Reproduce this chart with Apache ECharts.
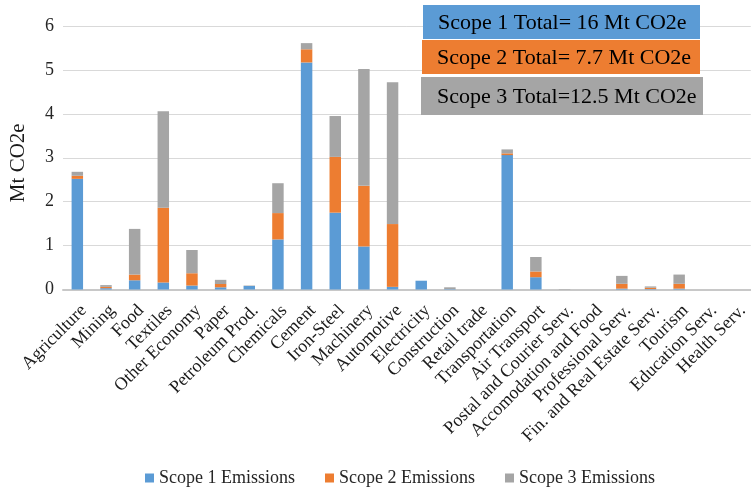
<!DOCTYPE html>
<html>
<head>
<meta charset="utf-8">
<script src="https://cdn.jsdelivr.net/npm/echarts@6/dist/echarts.min.js"></script>
<style>
  html, body { margin: 0; padding: 0; background: #fff; }
  #chart { width: 751px; height: 489px; }
</style>
</head>
<body>
<div id="chart"></div>
<script>
// Emissions by sector (Mt CO2e), stacked by scope
const sectors = [
  'Agriculture', 'Mining', 'Food', 'Textiles', 'Other Economy', 'Paper',
  'Petroleum Prod.', 'Chemicals', 'Cement', 'Iron-Steel', 'Machinery',
  'Automotive', 'Electricity', 'Construction', 'Retail trade', 'Transportation',
  'Air Transport', 'Postal and Courier Serv.', 'Accomodation and Food',
  'Professional Serv.', 'Fin. and Real Estate Serv.', 'Tourism',
  'Education Serv.', 'Health Serv.'
];
const scope1 = [2.52, 0.03, 0.21, 0.16, 0.09, 0.05, 0.08, 1.14, 5.17, 1.75, 0.98, 0.06,
                0.20, 0.01, 0, 3.06, 0.28, 0, 0, 0.02, 0.01, 0.02, 0, 0];
const scope2 = [0.07, 0.03, 0.13, 1.70, 0.28, 0.075, 0, 0.60, 0.30, 1.27, 1.38, 1.43,
                0, 0, 0, 0.04, 0.13, 0, 0, 0.11, 0.03, 0.11, 0, 0];
const scope3 = [0.09, 0.04, 1.04, 2.20, 0.53, 0.095, 0.01, 0.68, 0.14, 0.93, 2.66, 3.23,
                0, 0.04, 0, 0.09, 0.33, 0.01, 0, 0.18, 0.03, 0.21, 0, 0];
const seriesNames = ['Scope 1 Emissions', 'Scope 2 Emissions', 'Scope 3 Emissions'];
const totalsText = ['Scope 1 Total= 16 Mt CO2e', 'Scope 2 Total= 7.7 Mt CO2e', 'Scope 3 Total=12.5 Mt CO2e'];
const yTicks = { min: 0, max: 6, interval: 1 };

const colors = ['#5B9BD5', '#ED7D31', '#A5A5A5'];
const serif = "'Times New Roman', 'Liberation Serif', serif";

const chart = echarts.init(document.getElementById('chart'), null, { renderer: 'canvas' });

function bar(name, data, color) {
  return {
    name: name,
    type: 'bar',
    stack: 'total',
    data: data,
    barWidth: '40%',
    itemStyle: { color: color },
    emphasis: { disabled: true }
  };
}

// Summary boxes in the upper right
const boxes = [
  { x: 423, y: 5, w: 277, h: 34, tx: 438 },
  { x: 422, y: 40, w: 278, h: 34, tx: 437 },
  { x: 421, y: 77, w: 282, h: 38, tx: 437 }
];
const graphics = [];
boxes.forEach((b, i) => {
  graphics.push({
    type: 'rect', left: b.x, top: b.y, z: 100,
    shape: { width: b.w, height: b.h },
    style: { fill: colors[i] }
  });
  graphics.push({
    type: 'text', x: b.tx, y: b.y + b.h / 2 + 1, z: 101,
    style: {
      text: totalsText[i], fill: '#000', font: '22px ' + serif,
      textAlign: 'left', textVerticalAlign: 'middle'
    }
  });
});

chart.setOption({
  animation: false,
  backgroundColor: '#fff',
  textStyle: { fontFamily: serif },
  grid: { left: 58, right: -10, top: 26, bottom: 199.5, containLabel: false },
  legend: {
    data: seriesNames,
    left: 140, top: 464,
    itemWidth: 9, itemHeight: 9, itemGap: 30,
    icon: 'rect',
    textStyle: { fontFamily: serif, fontSize: 18, color: '#262626' }
  },
  xAxis: {
    type: 'category',
    data: sectors,
    axisLine: { lineStyle: { color: '#C8C8C8', width: 2 } },
    axisTick: { show: false },
    axisLabel: {
      interval: 0, rotate: 45, margin: 12,
      verticalAlign: 'top',
      fontFamily: serif, fontSize: 18, color: '#1a1a1a'
    }
  },
  yAxis: {
    type: 'value',
    min: yTicks.min, max: yTicks.max, interval: yTicks.interval,
    name: 'Mt CO2e', nameLocation: 'middle', nameGap: 34, nameRotate: 90,
    nameTextStyle: { fontFamily: serif, fontSize: 21, color: '#1a1a1a', padding: [0, 10, 0, 0] },
    axisLine: { show: false },
    axisTick: { show: false },
    axisLabel: { fontFamily: serif, fontSize: 18, color: '#262626', margin: 9 },
    splitLine: { lineStyle: { color: '#D9D9D9', width: 1 } }
  },
  series: [
    bar(seriesNames[0], scope1, colors[0]),
    bar(seriesNames[1], scope2, colors[1]),
    bar(seriesNames[2], scope3, colors[2])
  ],
  graphic: graphics
});
</script>
</body>
</html>
